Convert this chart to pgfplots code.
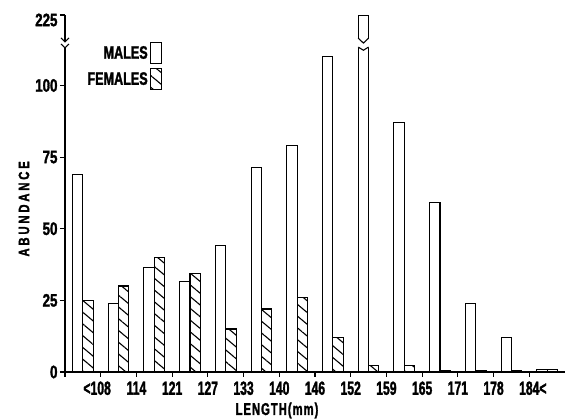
\documentclass[border=0pt]{standalone}
\usepackage{pgfplots}
\pgfplotsset{compat=1.18}
\usepackage{pgfplotstable}
\usetikzlibrary{patterns.meta}
\usepackage{fontspec}
\newfontfamily\cf{Liberation Sans}[FakeStretch=0.64,BoldFeatures={FakeBold=1.6}]
\newfontfamily\cfy{Liberation Sans}[FakeStretch=0.74,BoldFeatures={FakeBold=1.6}]
\newfontfamily\cfg{Liberation Sans}[FakeStretch=0.7,BoldFeatures={FakeBold=1.6}]
\newfontfamily\cfl{Liberation Sans}[FakeStretch=0.75,LetterSpace=19,BoldFeatures={FakeBold=1.6}]
\newfontfamily\cfx{Liberation Sans}[FakeStretch=0.66,LetterSpace=6,BoldFeatures={FakeBold=1.6}]

\pgfplotstableread{
x m f
0.5 69 25
1.5 24 30
2.5 36.5 40
3.5 31.5 34.5
4.5 44 15
5.5 71.5 22
6.5 79 26
7.5 110 12
8.5 225 2.3
9.5 87 2.2
10.5 59 0.5
11.5 24 0.5
12.5 12 0.5
13.5 0.8 0.8
}\datatable

\begin{document}
\begin{tikzpicture}
\useasboundingbox (-65pt,-47pt) rectangle (500pt,372pt);
\begin{axis}[
  at={(0pt,0pt)}, anchor=south west,
  scale only axis, width=500pt, height=357pt,
  xmin=0, xmax=14, ymin=0, ymax=124.6,
  clip=false,
  axis x line=bottom, axis y line=left,
  axis line style={-, line width=1.2pt},
  tick align=outside,
  major tick length=5pt,
  tick style={black, line width=1.1pt},
  xtick={0,...,13},
  xticklabels={,\llap{<}108,114,121,127,133,140,146,152,159,165,171,178,184\rlap{<}},
  ytick={0,25,50,75,100},
  yticklabels={0,25,50,75,100},
  extra y ticks={124.6},
  extra y tick labels={225},
  extra y tick style={yticklabel style={yshift=-5pt}},
  /pgf/number format/assume math mode=true,
  xticklabel style={font=\cf\bfseries\fontsize{19}{19}\selectfont, yshift=-1pt},
  yticklabel style={font=\cfy\bfseries\fontsize{18}{18}\selectfont, xshift=1pt},
  xlabel={\cfx\bfseries\fontsize{17}{17}\selectfont LENGTH(mm)},
  ylabel={\cfl\bfseries\fontsize{15}{15}\selectfont ABUNDANCE},
  every axis x label/.style={at={(axis description cs:0.424,-0.108)}, anchor=center},
  every axis y label/.style={at={(axis description cs:-0.082,0.457)}, anchor=center, rotate=90},
  ybar, bar width=0.29,
  legend image code/.code={\draw[#1] (0pt,-10.5pt) rectangle (11pt,10.5pt);},
  legend plot pos=right,
  legend cell align=right,
  legend style={draw=none, fill=none, inner sep=0pt, row sep=4pt,
    at={(axis cs:2.716,115.2)}, anchor=north east,
    nodes={inner sep=2pt, font=\cfg\bfseries\fontsize{18}{18}\selectfont}},
]
\addplot[draw=black, fill=white, line width=1.1pt, bar shift=-0.145,
  y filter/.expression={y>200 ? 124.3 : y}] table[x=x, y=m] {\datatable};
\addlegendentry{MALES}
\addplot[draw=black, line width=1.1pt, bar shift=0.145,
  pattern={Lines[angle=-40,distance=9pt,line width=1.1pt]}] table[x=x, y=f] {\datatable};
\addlegendentry{FEMALES}
% break of the tall bar
\fill[white] (axis cs:8.19,116.5) -- (axis cs:8.355,114.8) -- (axis cs:8.52,116.5) -- (axis cs:8.52,113.4) -- (axis cs:8.355,112.3) -- (axis cs:8.19,113.4) -- cycle;
\draw[line width=1.1pt] (axis cs:8.21,116.5) -- (axis cs:8.355,114.8) -- (axis cs:8.5,116.5);
\draw[line width=1.1pt] (axis cs:8.21,113.4) -- (axis cs:8.355,112.3) -- (axis cs:8.5,113.4);
% break of the y axis
\fill[white] (axis cs:-0.06,113.2) rectangle (axis cs:0.06,115.1);
\draw[line width=1.1pt] (axis cs:-0.11,116.6) -- (axis cs:0,115.2) -- (axis cs:0.11,116.6);
\draw[line width=1.1pt] (axis cs:-0.11,114.5) -- (axis cs:0,113.1) -- (axis cs:0.11,114.5);
\end{axis}
\end{tikzpicture}
\end{document}
